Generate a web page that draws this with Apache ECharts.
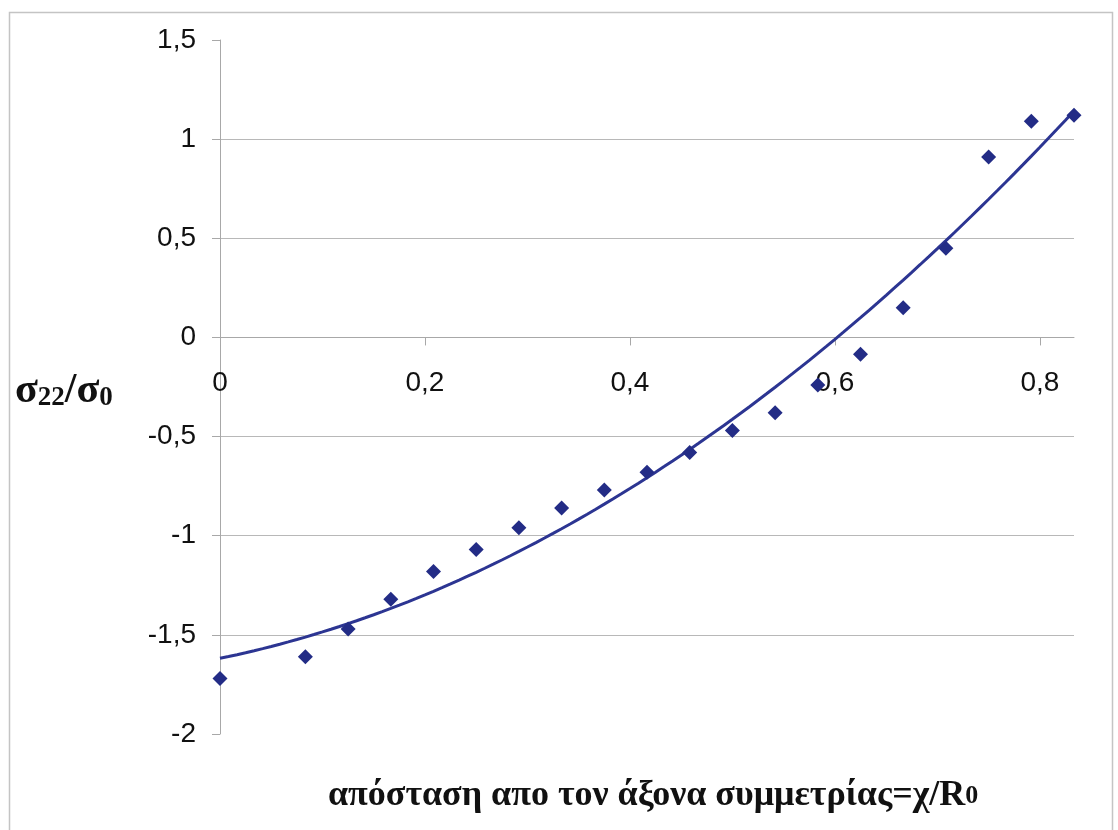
<!DOCTYPE html>
<html>
<head>
<meta charset="utf-8">
<script src="https://cdn.jsdelivr.net/npm/echarts@6/dist/echarts.min.js"></script>
<style>
  html, body { margin: 0; padding: 0; background: #ffffff; }
  #chart { width: 1118px; height: 830px; }
</style>
</head>
<body>
<div id="chart"></div>
<script>
// Normalised distance from the symmetry axis, x / R0 (steps of 1/24)
const xValues = [0, 2/24, 3/24, 4/24, 5/24, 6/24, 7/24, 8/24, 9/24, 10/24,
                 11/24, 12/24, 13/24, 14/24, 15/24, 16/24, 17/24, 18/24, 19/24, 20/24];
// Normalised stress σ22 / σ0
const stressValues = [-1.72, -1.61, -1.47, -1.32, -1.18, -1.07, -0.96, -0.86, -0.77, -0.68,
                      -0.58, -0.47, -0.38, -0.24, -0.085, 0.15, 0.45, 0.91, 1.09, 1.12];
const xTickLabels = ['0', '0,2', '0,4', '0,6', '0,8'];

// Second order least-squares trendline through the measured points
function quadFit(xs, ys) {
  let s = [0, 0, 0, 0, 0], t = [0, 0, 0];
  for (let i = 0; i < xs.length; i++) {
    let p = 1;
    for (let k = 0; k < 5; k++) { s[k] += p; if (k < 3) t[k] += p * ys[i]; p *= xs[i]; }
  }
  const A = [[s[0], s[1], s[2], t[0]], [s[1], s[2], s[3], t[1]], [s[2], s[3], s[4], t[2]]];
  for (let c = 0; c < 3; c++) {
    for (let r = c + 1; r < 3; r++) {
      const f = A[r][c] / A[c][c];
      for (let k = c; k < 4; k++) A[r][k] -= f * A[c][k];
    }
  }
  const coef = [0, 0, 0];
  for (let r = 2; r >= 0; r--) {
    let v = A[r][3];
    for (let k = r + 1; k < 3; k++) v -= A[r][k] * coef[k];
    coef[r] = v / A[r][r];
  }
  return coef;
}
const coef = quadFit(xValues, stressValues);
const xMax = xValues[xValues.length - 1];
const trend = [];
for (let i = 0; i <= 100; i++) {
  const x = xMax * i / 100;
  trend.push([x, coef[0] + coef[1] * x + coef[2] * x * x]);
}

const yMin = -2, yMax = 1.5;
const gridTop = 40, gridBottom = 96, chartH = 830;
// the x axis sits on y = 0, so lift it from the bottom edge of the grid
const plotH = chartH - gridTop - gridBottom;
const zeroOffset = -plotH * (0 - yMin) / (yMax - yMin);

const chart = echarts.init(document.getElementById('chart'), null, { renderer: 'canvas' });
chart.setOption({
  backgroundColor: '#ffffff',
  animation: false,
  grid: { left: 220, right: 44, top: gridTop, bottom: gridBottom, containLabel: false },
  xAxis: {
    type: 'value', min: 0, max: xMax, interval: 0.2,
    position: 'bottom', offset: zeroOffset,
    axisLine: { onZero: false, lineStyle: { color: '#a8a8a8', width: 1 } },
    axisTick: { show: true, length: 8, lineStyle: { color: '#a8a8a8' } },
    axisLabel: {
      margin: 32, color: '#111', fontFamily: 'Liberation Sans, Arial', fontSize: 28,
      showMaxLabel: false,
      formatter: v => xTickLabels[Math.round(v / 0.2)] ?? ''
    },
    splitLine: { show: false }
  },
  yAxis: {
    type: 'value', min: yMin, max: yMax, interval: 0.5,
    axisLine: { show: true, lineStyle: { color: '#a8a8a8', width: 1 } },
    axisTick: { show: true, length: 8, lineStyle: { color: '#a8a8a8' } },
    axisLabel: {
      margin: 24, color: '#111', fontFamily: 'Liberation Sans, Arial', fontSize: 28,
      formatter: v => String(v).replace('.', ',')
    },
    splitLine: { show: true, showMinLine: false, showMaxLine: false, lineStyle: { color: '#b8b8b8', width: 1 } }
  },
  series: [
    {
      type: 'line', data: trend, showSymbol: false, smooth: false,
      lineStyle: { color: '#2c3592', width: 3 }, z: 3
    },
    {
      type: 'scatter', data: xValues.map((x, i) => [x, stressValues[i]]),
      symbol: 'diamond', symbolSize: 15,
      itemStyle: { color: '#232c86', opacity: 1 }, z: 4
    }
  ],
  graphic: [
    {
      type: 'rect', silent: true, z: -1,
      shape: { x: 9.5, y: 12.5, width: 1103, height: 840 },
      style: { fill: null, stroke: '#c4c4c4', lineWidth: 1.5 }
    },
    {
      type: 'text', left: 15, top: 370,
      style: {
        text: '{s|σ}{d|22}{s|/σ}{d|0}',
        rich: {
          s: { fontFamily: 'Liberation Serif, Times New Roman', fontWeight: 'bold', fontSize: 42, fill: '#111' },
          d: { fontFamily: 'Liberation Serif, Times New Roman', fontWeight: 'bold', fontSize: 27, fill: '#111', verticalAlign: 'bottom' }
        }
      }
    },
    {
      type: 'text', left: 328, top: 778,
      style: {
        text: '{t|απόσταση απο τον άξονα συμμετρίας=χ/R}{d|0}',
        rich: {
          t: { fontFamily: 'Liberation Serif, Times New Roman', fontWeight: 'bold', fontSize: 36, fill: '#111' },
          d: { fontFamily: 'Liberation Serif, Times New Roman', fontWeight: 'bold', fontSize: 26, fill: '#111' }
        }
      }
    }
  ]
});
</script>
</body>
</html>
